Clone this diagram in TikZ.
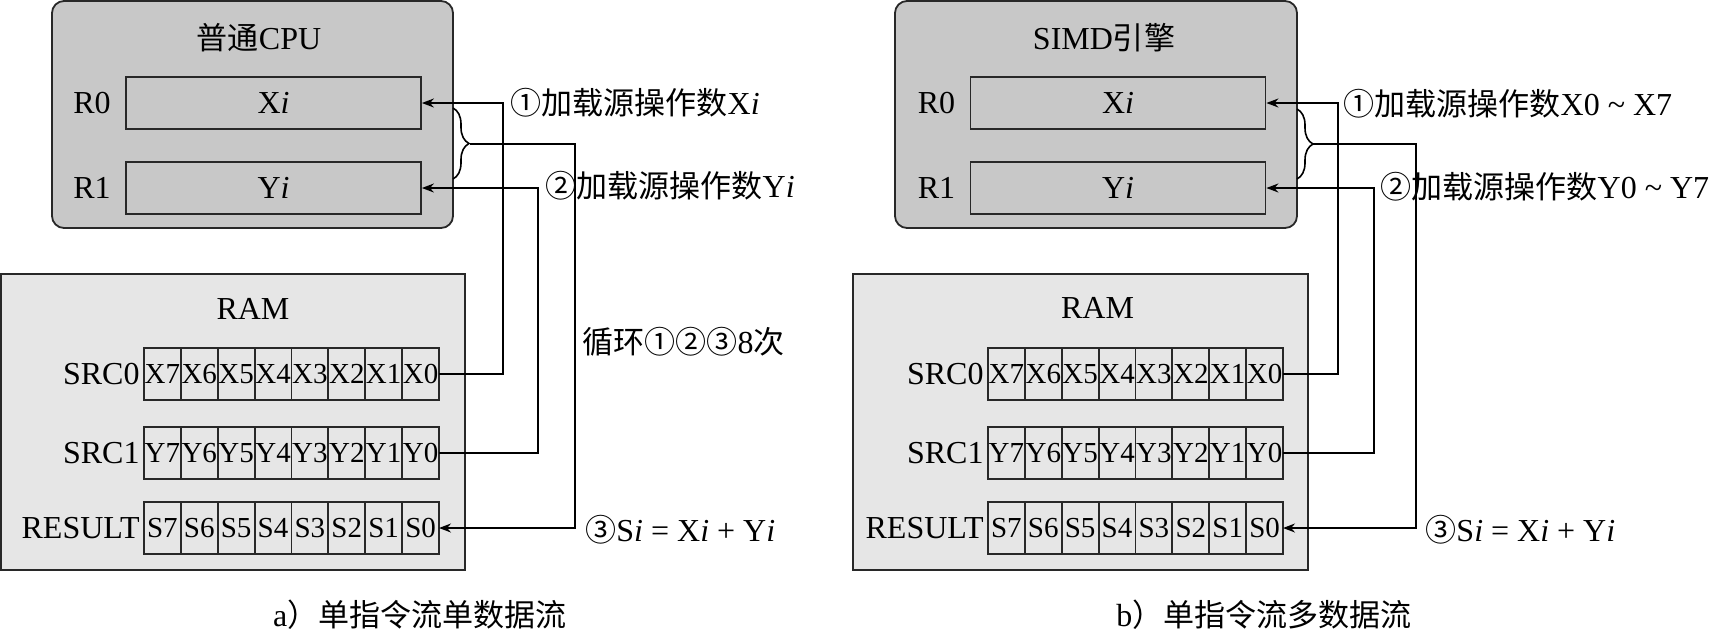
\documentclass[tikz,border=0pt]{standalone}
\usepackage{fontspec}
\setmainfont{Liberation Serif}
\newfontfamily\cjk[Scale=0.97]{Noto Sans CJK SC}
\usepackage{tikz}
\usetikzlibrary{positioning}
\usetikzlibrary{arrows.meta}
\usetikzlibrary{decorations.pathreplacing}
\usepackage{xcolor}
\definecolor{cpugray}{RGB}{200,200,200}
\definecolor{ramgray}{RGB}{230,230,230}
\definecolor{linegray}{RGB}{40,40,40}

\begin{document}
\begin{tikzpicture}[x=0.5pt, y=-0.5pt,
  every node/.style={font=\fontsize{16}{19}\selectfont, inner sep=0pt},
  cpubox/.style={draw=linegray, fill=cpugray, line width=0.9pt, rounded corners=6pt},
  rambox/.style={draw=linegray, fill=ramgray, line width=0.9pt},
  regbox/.style={draw=linegray, line width=0.9pt, minimum width=147.5pt, minimum height=26pt},
  cell/.style={draw=linegray, line width=0.9pt, minimum width=18.44pt, minimum height=26pt, outer sep=0pt, font=\fontsize{14.5}{16}\selectfont},
  conn/.style={draw=black, line width=0.8pt, -{Stealth[length=6pt,width=4.5pt]}},
  brc/.style={draw=black, line width=0.8pt, decorate, decoration={brace, amplitude=8pt}}]

\useasboundingbox (0,0) rectangle (1712,632);

\begin{scope}[xshift=0pt]
{
\node[cpubox, minimum width=200.5pt, minimum height=113.5pt] (cpua) at (252.5,114.5) {};
\node (tcpua) at (259,38) {{\cjk 普通}CPU};
\node[regbox] (r0a) at (273.5,103) {X\textit{i}};
\node[regbox] (r1a) at (273.5,188) {Y\textit{i}};
\node[left=7pt of r0a] (l0a) {R0};
\node[left=7pt of r1a] (l1a) {R1};

\node[rambox, minimum width=232pt, minimum height=148pt] (rama) at (233,422) {};
\node (trama) at (253,309) {RAM};

% SRC0
\node[cell] (x7a) at (162.4,374) {X7};
\node[cell, right=0pt of x7a] (x6a) {X6};
\node[cell, right=0pt of x6a] (x5a) {X5};
\node[cell, right=0pt of x5a] (x4a) {X4};
\node[cell, right=0pt of x4a] (x3a) {X3};
\node[cell, right=0pt of x3a] (x2a) {X2};
\node[cell, right=0pt of x2a] (x1a) {X1};
\node[cell, right=0pt of x1a] (x0a) {X0};
\node[left=2pt of x7a] (src0a) {SRC0};

% SRC1
\node[cell] (y7a) at (162.4,453) {Y7};
\node[cell, right=0pt of y7a] (y6a) {Y6};
\node[cell, right=0pt of y6a] (y5a) {Y5};
\node[cell, right=0pt of y5a] (y4a) {Y4};
\node[cell, right=0pt of y4a] (y3a) {Y3};
\node[cell, right=0pt of y3a] (y2a) {Y2};
\node[cell, right=0pt of y2a] (y1a) {Y1};
\node[cell, right=0pt of y1a] (y0a) {Y0};
\node[left=2pt of y7a] (src1a) {SRC1};

% RESULT
\node[cell] (s7a) at (162.4,528) {S7};
\node[cell, right=0pt of s7a] (s6a) {S6};
\node[cell, right=0pt of s6a] (s5a) {S5};
\node[cell, right=0pt of s5a] (s4a) {S4};
\node[cell, right=0pt of s4a] (s3a) {S3};
\node[cell, right=0pt of s3a] (s2a) {S2};
\node[cell, right=0pt of s2a] (s1a) {S1};
\node[cell, right=0pt of s1a] (s0a) {S0};
\node[left=2pt of s7a] (resa) {RESULT};

% connectors
\draw[conn] (x0a.east) -- ++(64,0) |- (r0a.east);
\draw[conn] (y0a.east) -- ++(99,0) |- (r1a.east);
\draw[brc] (453,108) -- (453,179);
\coordinate (bra) at (470,144);
\draw[conn] (bra) -- ++(105,0) |- (s0a.east);

\node[anchor=west] (t1a) at (510,103) {{\cjk ①加载源操作数}X\textit{i}};
\node[anchor=west] (t2a) at (545,186) {{\cjk ②加载源操作数}Y\textit{i}};
\node[anchor=west] (t4a) at (582,342) {{\cjk 循环①②③}8{\cjk 次}};
\node[anchor=west] (t3a) at (585,530) {{\cjk ③}S\textit{i} = X\textit{i} + Y\textit{i}};

\node (capa) at (420,615) {a{\cjk ）单指令流单数据流}};
}
\end{scope}

\begin{scope}[xshift=422pt]
{
\node[cpubox, minimum width=201pt, minimum height=113.5pt] (cpub) at (252,114.5) {};
\node (tcpub) at (260,38) {SIMD{\cjk 引擎}};
\node[regbox] (r0b) at (274,103) {X\textit{i}};
\node[regbox] (r1b) at (274,188) {Y\textit{i}};
\node[left=7pt of r0b] (l0b) {R0};
\node[left=7pt of r1b] (l1b) {R1};

\node[rambox, minimum width=227.5pt, minimum height=148pt] (ramb) at (236.5,422) {};
\node (tramb) at (253.5,308) {RAM};

% SRC0
\node[cell] (x7b) at (162.4,374) {X7};
\node[cell, right=0pt of x7b] (x6b) {X6};
\node[cell, right=0pt of x6b] (x5b) {X5};
\node[cell, right=0pt of x5b] (x4b) {X4};
\node[cell, right=0pt of x4b] (x3b) {X3};
\node[cell, right=0pt of x3b] (x2b) {X2};
\node[cell, right=0pt of x2b] (x1b) {X1};
\node[cell, right=0pt of x1b] (x0b) {X0};
\node[left=2pt of x7b] (src0b) {SRC0};

% SRC1
\node[cell] (y7b) at (162.4,453) {Y7};
\node[cell, right=0pt of y7b] (y6b) {Y6};
\node[cell, right=0pt of y6b] (y5b) {Y5};
\node[cell, right=0pt of y5b] (y4b) {Y4};
\node[cell, right=0pt of y4b] (y3b) {Y3};
\node[cell, right=0pt of y3b] (y2b) {Y2};
\node[cell, right=0pt of y2b] (y1b) {Y1};
\node[cell, right=0pt of y1b] (y0b) {Y0};
\node[left=2pt of y7b] (src1b) {SRC1};

% RESULT
\node[cell] (s7b) at (162.4,528) {S7};
\node[cell, right=0pt of s7b] (s6b) {S6};
\node[cell, right=0pt of s6b] (s5b) {S5};
\node[cell, right=0pt of s5b] (s4b) {S4};
\node[cell, right=0pt of s4b] (s3b) {S3};
\node[cell, right=0pt of s3b] (s2b) {S2};
\node[cell, right=0pt of s2b] (s1b) {S1};
\node[cell, right=0pt of s1b] (s0b) {S0};
\node[left=2pt of s7b] (resb) {RESULT};

% connectors
\draw[conn] (x0b.east) -- ++(55,0) |- (r0b.east);
\draw[conn] (y0b.east) -- ++(91,0) |- (r1b.east);
\draw[brc] (453,109) -- (453,179);
\coordinate (brb) at (469,144);
\draw[conn] (brb) -- ++(103,0) |- (s0b.east);

\node[anchor=west] (t1b) at (499,104) {{\cjk ①加载源操作数}X0 \textasciitilde\ X7};
\node[anchor=west] (t2b) at (536,187) {{\cjk ②加载源操作数}Y0 \textasciitilde\ Y7};
\node[anchor=west] (t3b) at (581,530) {{\cjk ③}S\textit{i} = X\textit{i} + Y\textit{i}};

\node (capb) at (420,615) {b{\cjk ）单指令流多数据流}};
}
\end{scope}

\end{tikzpicture}
\end{document}
